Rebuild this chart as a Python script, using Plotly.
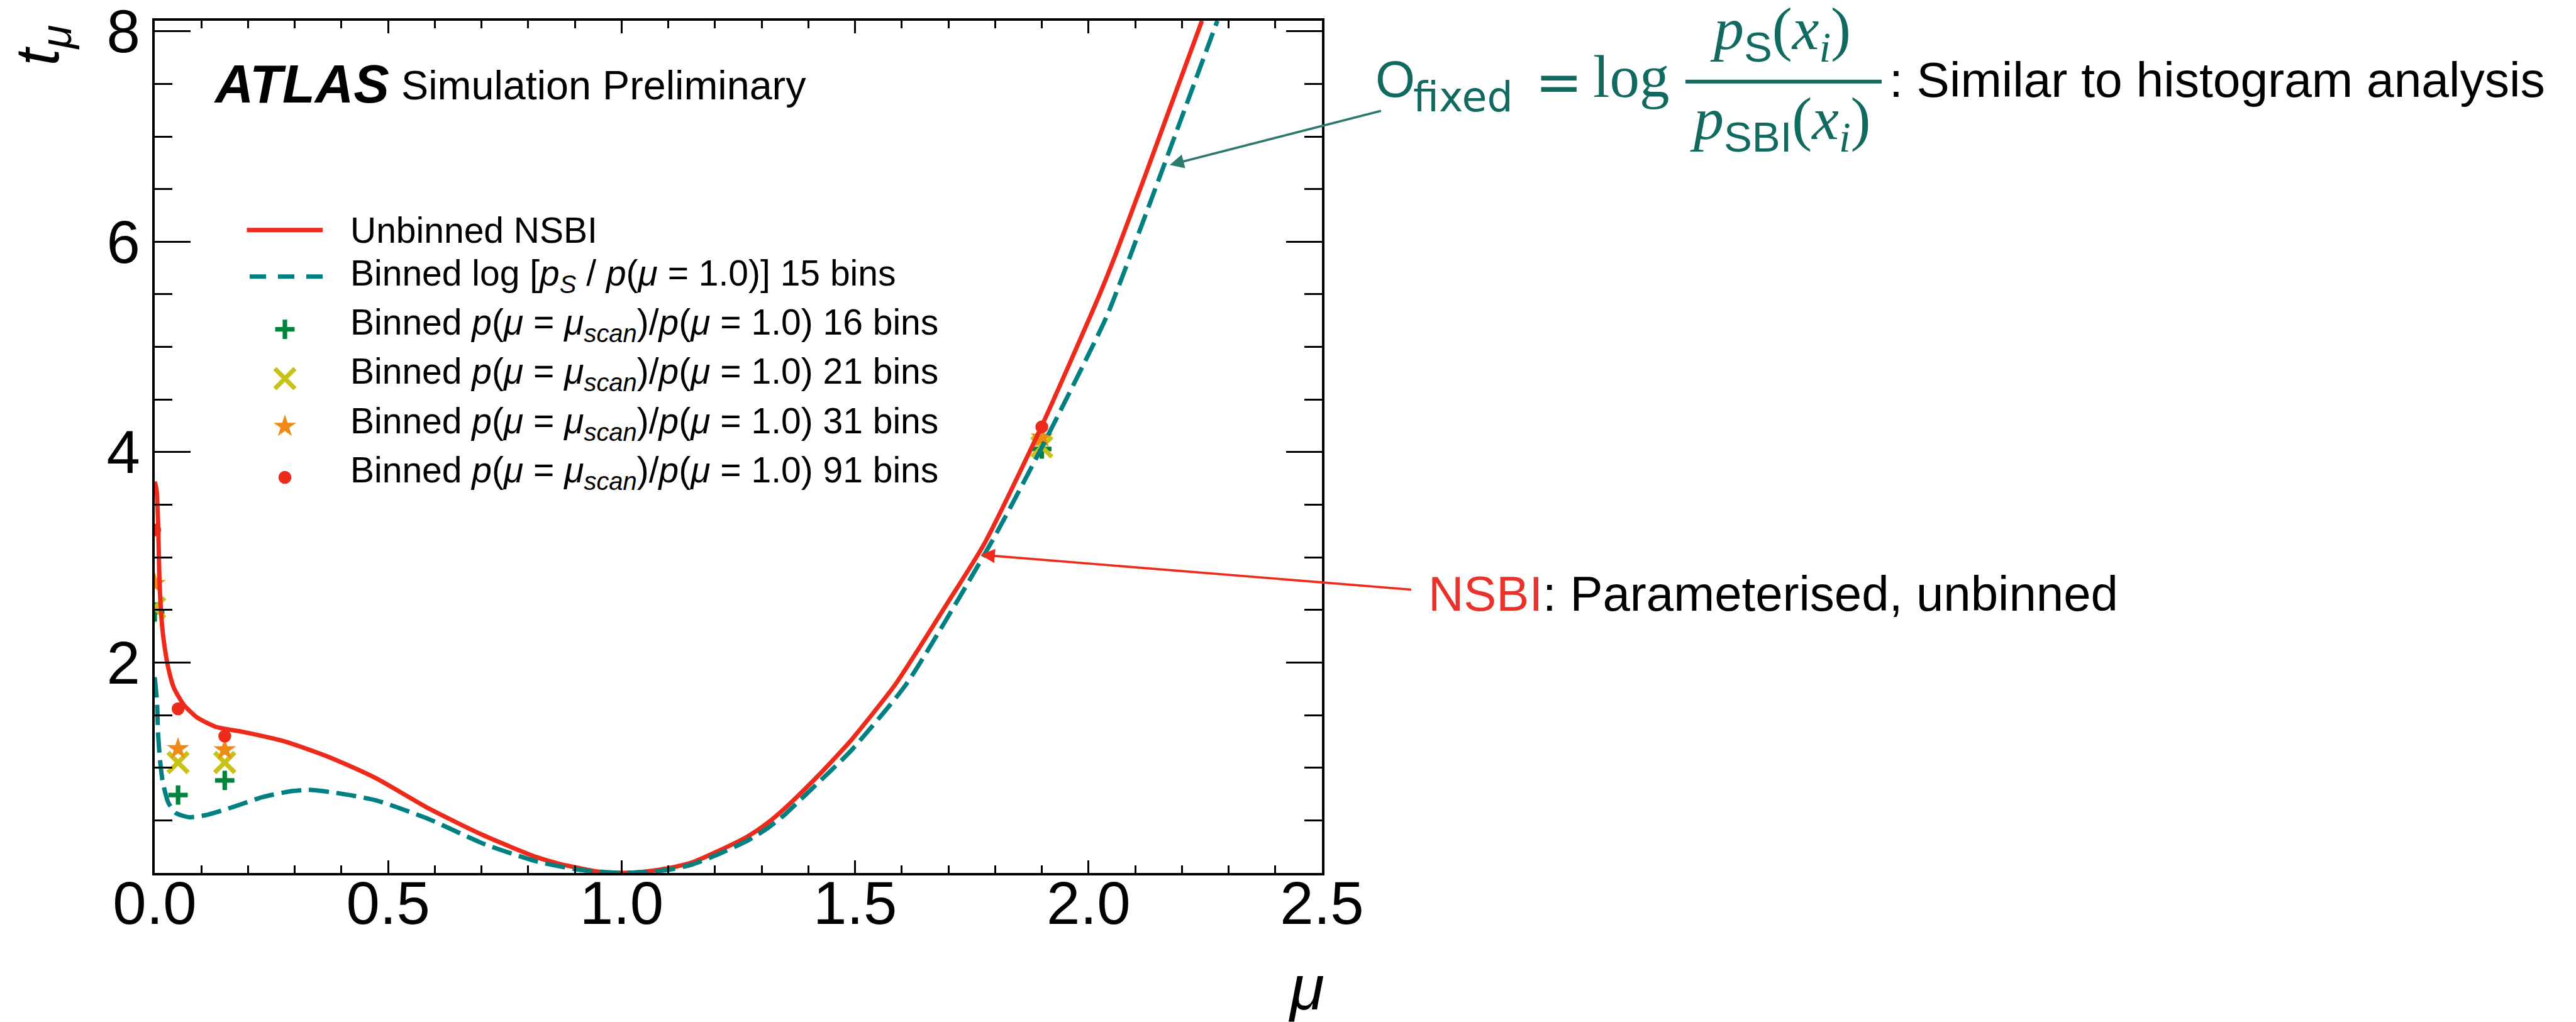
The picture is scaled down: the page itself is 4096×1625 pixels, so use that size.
import plotly.graph_objects as go

# ---------------------------------------------------------------- data
# Unbinned NSBI profile-likelihood scan
mu_nsbi = [0.0, 0.004, 0.0075, 0.010, 0.014, 0.019, 0.029, 0.041, 0.062, 0.090,
           0.130, 0.190, 0.270, 0.350, 0.390, 0.474, 0.588, 0.703, 0.818, 0.870,
           0.910, 0.950, 1.000, 1.050, 1.100, 1.151, 1.203, 1.271, 1.311, 1.351,
           1.391, 1.431, 1.471, 1.495, 1.586, 1.700, 1.777, 1.900, 2.023, 2.060,
           2.124, 2.157, 2.243]
t_nsbi = [3.72, 3.64, 3.29, 2.81, 2.45, 2.22, 1.95, 1.76, 1.60, 1.48,
          1.39, 1.34, 1.26, 1.14, 1.07, 0.90, 0.61, 0.36, 0.15, 0.083,
          0.045, 0.012, 0.0, 0.012, 0.045, 0.10, 0.20, 0.35, 0.47, 0.62,
          0.79, 0.97, 1.16, 1.28, 1.79, 2.58, 3.13, 4.25, 5.49, 5.90,
          6.66, 7.06, 8.10]

# Binned log[p_S / p(mu=1)] observable, 15 bins
mu_b15 = [0.0, 0.005, 0.007, 0.0114, 0.0174, 0.029, 0.045, 0.0735, 0.110, 0.170,
          0.230, 0.290, 0.330, 0.390, 0.474, 0.588, 0.703, 0.818, 0.910, 1.000,
          1.100, 1.151, 1.203, 1.271, 1.311, 1.351, 1.391, 1.431, 1.471, 1.495,
          1.609, 1.793, 1.904, 2.038, 2.088, 2.162, 2.276]
t_b15 = [1.86, 1.62, 1.34, 1.07, 0.86, 0.67, 0.57, 0.53, 0.55, 0.63,
         0.72, 0.776, 0.79, 0.76, 0.69, 0.51, 0.28, 0.11, 0.03, 0.0,
         0.03, 0.08, 0.17, 0.31, 0.42, 0.56, 0.73, 0.90, 1.07, 1.18,
         1.79, 3.15, 4.08, 5.28, 5.85, 6.73, 8.10]

# Binned p(mu=mu_scan)/p(mu=1) observables at the scan points
mu_scan = [0.0, 0.05, 0.15, 1.90]
t_16bins = [2.48, 0.74, 0.88, 4.03]
t_21bins = [2.52, 1.05, 1.05, 4.05]
t_31bins = [2.75, 1.18, 1.17, 4.14]
t_91bins = [3.26, 1.56, 1.30, 4.24]

x_ticks = [0.0, 0.5, 1.0, 1.5, 2.0, 2.5]
y_ticks = [0, 2, 4, 6, 8]
y_tick_text = ["", "2", "4", "6", "8"]

ratio = "<i>p</i>(<i>μ</i> = <i>μ</i><sub><i>scan</i></sub>)/<i>p</i>(<i>μ</i> = 1.0)"
legend_labels = [
    "Unbinned NSBI",
    "Binned log [<i>p</i><sub><i>S</i></sub> / <i>p</i>(<i>μ</i> = 1.0)] 15 bins",
    "Binned " + ratio + " 16 bins",
    "Binned " + ratio + " 21 bins",
    "Binned " + ratio + " 31 bins",
    "Binned " + ratio + " 91 bins",
]

# ---------------------------------------------------------------- style
RED = "#ee2a1b"
TEAL = "#008080"
GREEN = "#00843d"
OLIVE = "#c8c216"
ORANGE = "#f08a16"
TEXT_TEAL = "#116a60"
ARROW_TEAL = "#2c7a6e"
NSBI_RED = "#e8322b"
SANS = "Liberation Sans"
SERIF = "Liberation Serif"

W, H = 4096, 1625
ML, MR, MT, MB = 246, 1994, 33, 237
PW = W - ML - MR
PH = H - MT - MB


def px(xp):
    """page pixel -> paper x"""
    return (xp - ML) / PW


def py(yp):
    """page pixel -> paper y"""
    return (H - MB - yp) / PH


marker_styles = [
    dict(symbol="cross-thin", size=22, color=GREEN, line=dict(color=GREEN, width=7.2)),
    dict(symbol="x-thin", size=32, color=OLIVE, line=dict(color=OLIVE, width=7.2)),
    dict(symbol="star", size=27, color=ORANGE, line=dict(width=0)),
    dict(symbol="circle", size=20.5, color=RED, line=dict(width=0)),
]
scan_series = [t_16bins, t_21bins, t_31bins, t_91bins]

fig = go.Figure()

# scan points (drawn beneath the curves)
for ts, mk in zip(scan_series, marker_styles):
    fig.add_trace(go.Scatter(x=mu_scan, y=ts, mode="markers", marker=mk,
                             showlegend=False, hoverinfo="skip"))

fig.add_trace(go.Scatter(x=mu_nsbi, y=t_nsbi, mode="lines",
                         line=dict(color=RED, width=7, shape="spline", smoothing=0.6),
                         showlegend=False))
fig.add_trace(go.Scatter(x=mu_b15, y=t_b15, mode="lines",
                         line=dict(color=TEAL, width=7, dash="32px,12px",
                                   shape="spline", smoothing=0.6),
                         showlegend=False))

# ---------------------------------------------------------------- legend
leg_text_x = 555
leg_text_y = [365.7, 438, 515.6, 594, 672.6, 751]
key_x = 453
key_marker_y = [523.6, 602, 678, 759]

for ys, mk in zip(key_marker_y, marker_styles):
    fig.add_trace(go.Scatter(x=[px(key_x)], y=[py(ys)], mode="markers", marker=mk,
                             xaxis="x2", yaxis="y2", showlegend=False,
                             hoverinfo="skip"))

shapes = [
    dict(type="line", xref="paper", yref="paper", x0=px(392.5), x1=px(513),
         y0=py(365.7), y1=py(365.7), line=dict(color=RED, width=7)),
    dict(type="line", xref="paper", yref="paper", x0=px(397), x1=px(513),
         y0=py(439.8), y1=py(439.8), line=dict(color=TEAL, width=7, dash="26px,19px")),
    # fraction bar of the observable definition
    dict(type="line", xref="paper", yref="paper", x0=px(2680), x1=px(2992),
         y0=py(129.8), y1=py(129.8), line=dict(color=TEXT_TEAL, width=6)),
]


def ann(text, x, y, size, family=SANS, color="black", xanchor="left",
        yanchor="middle", **kw):
    return dict(text=text, x=px(x), y=py(y), xref="paper", yref="paper",
                xanchor=xanchor, yanchor=yanchor, showarrow=False,
                font=dict(size=size, family=family, color=color), **kw)


annotations = []
for lab, yy in zip(legend_labels, leg_text_y):
    annotations.append(ann(lab, leg_text_x, yy, 57))

# experiment label
annotations.append(ann("<b><i>ATLAS</i></b>", 338, 133, 85))
annotations.append(ann("Simulation Preliminary", 636, 136, 64.7))

# axis titles
annotations.append(ann("<i>t</i><sub><i>μ</i></sub>", 66, 72.5, 98,
                       xanchor="center", textangle=-90))
annotations.append(ann("<i>μ</i>", 2108, 1570, 100, xanchor="right"))

# observable definition
annotations.append(ann("O", 2185, 126, 81, color=TEXT_TEAL))
annotations.append(ann("fixed", 2245, 154, 65, family="DejaVu Sans", color=TEXT_TEAL))
annotations.append(ann("=", 2478, 130, 90, family="DejaVu Sans", color=TEXT_TEAL,
                       xanchor="center"))
annotations.append(ann("log", 2531, 122, 95, family=SERIF, color=TEXT_TEAL))
annotations.append(ann(
    "<i>p</i><sub><span style='font-family:Liberation Sans'>S</span></sub>"
    "(<i>x</i><sub><i>i</i></sub>)",
    2831, 52, 96, family=SERIF, color=TEXT_TEAL, xanchor="center"))
annotations.append(ann(
    "<i>p</i><sub><span style='font-family:Liberation Sans'>SBI</span></sub>"
    "(<i>x</i><sub><i>i</i></sub>)",
    2831, 195, 96, family=SERIF, color=TEXT_TEAL, xanchor="center"))
annotations.append(ann(": Similar to histogram analysis", 3002, 126.8, 78.5))

annotations.append(ann(
    "<span style='color:%s'>NSBI</span>: Parameterised, unbinned" % NSBI_RED,
    2269, 943.8, 78))

# arrows pointing at the two curves
annotations.append(dict(x=1.769, y=3.024, xref="x", yref="y", text="",
                        showarrow=True, ax=686, ay=55.5, arrowcolor=RED,
                        arrowwidth=3.6, arrowhead=2, arrowsize=1.25))
annotations.append(dict(x=2.174, y=6.73, xref="x", yref="y", text="",
                        showarrow=True, ax=337.4, ay=-86.2, arrowcolor=ARROW_TEAL,
                        arrowwidth=3.6, arrowhead=2, arrowsize=1.25))

axis_common = dict(showgrid=False, zeroline=False, showline=True, linecolor="black",
                   linewidth=3.6, mirror="allticks", ticks="inside",
                   tickcolor="black", tickwidth=2.7, ticklabeloverflow="allow",
                   automargin=False,
                   tickfont=dict(family=SANS, size=96, color="black"))

fig.update_layout(
    width=W, height=H,
    margin=dict(l=ML, r=MR, t=MT, b=MB, pad=0),
    paper_bgcolor="white", plot_bgcolor="white",
    showlegend=False,
    font=dict(family=SANS, color="black"),
    xaxis=dict(range=[0, 2.5], tickmode="array", tickvals=x_ticks,
               ticktext=["%.1f" % v for v in x_ticks], ticklen=20.5,
               ticklabelstandoff=-38,
               minor=dict(tickmode="linear", tick0=0, dtick=0.1, ticks="inside",
                          ticklen=12, tickwidth=2.7, tickcolor="black"),
               **axis_common),
    yaxis=dict(range=[0, 8.1], tickmode="array", tickvals=y_ticks,
               ticktext=y_tick_text, ticklen=57,
               minor=dict(tickmode="linear", tick0=0, dtick=0.5, ticks="inside",
                          ticklen=28.5, tickwidth=2.7, tickcolor="black"),
               **axis_common),
    xaxis2=dict(overlaying="x", anchor="y2", range=[0, 1], visible=False,
                automargin=False),
    yaxis2=dict(overlaying="y", anchor="x2", range=[0, 1], visible=False,
                automargin=False),
    shapes=shapes,
    annotations=annotations,
)

fig.write_html("out.html")
